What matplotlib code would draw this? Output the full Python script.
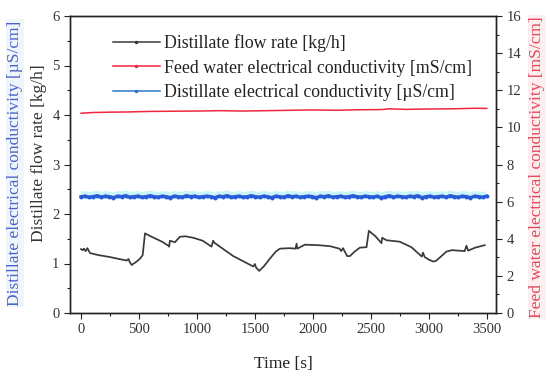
import matplotlib
matplotlib.use("Agg")
import matplotlib.pyplot as plt
from matplotlib.ticker import MultipleLocator

plt.rcParams['font.family'] = ['Liberation Serif', 'DejaVu Serif']

# Distillate flow rate [kg/h]
flow_t = [0, 15, 25, 40, 55, 78, 150, 250, 330, 394, 410, 420, 437, 480, 510, 532, 552, 600,
          700, 753, 760, 767, 810, 853, 900, 968, 1050, 1126, 1140, 1150, 1313, 1486, 1500,
          1510, 1537, 1580, 1630, 1680, 1716, 1800, 1850, 1860, 1866, 1931, 2050, 2147, 2230,
          2245, 2260, 2296, 2320, 2360, 2405, 2463, 2483, 2540, 2592, 2598, 2635, 2750, 2850,
          2940, 2950, 2965, 3000, 3037, 3060, 3100, 3152, 3200, 3310, 3325, 3340, 3400, 3483]
flow_v = [1.29, 1.27, 1.30, 1.25, 1.31, 1.21, 1.17, 1.13, 1.09, 1.06, 1.09, 1.03, 0.97, 1.04,
          1.10, 1.17, 1.61, 1.55, 1.44, 1.36, 1.34, 1.46, 1.43, 1.54, 1.55, 1.52, 1.46, 1.34,
          1.46, 1.42, 1.15, 0.94, 0.99, 0.92, 0.85, 0.95, 1.10, 1.24, 1.30, 1.31, 1.30, 1.40,
          1.30, 1.38, 1.37, 1.35, 1.30, 1.25, 1.31, 1.15, 1.15, 1.24, 1.32, 1.33, 1.66, 1.55,
          1.41, 1.52, 1.47, 1.44, 1.33, 1.14, 1.22, 1.13, 1.08, 1.04, 1.05, 1.13, 1.24, 1.27,
          1.25, 1.36, 1.26, 1.32, 1.37]

# Feed water electrical conductivity [mS/cm]
feed_t = [0, 100, 250, 400, 600, 800, 1000, 1200, 1400, 1600, 1800, 2000, 2200, 2400,
          2600, 2650, 2800, 3000, 3200, 3400, 3500]
feed_v = [10.76, 10.80, 10.82, 10.83, 10.86, 10.87, 10.88, 10.90, 10.88, 10.90, 10.92,
          10.94, 10.92, 10.95, 10.96, 11.00, 10.97, 10.99, 11.00, 11.03, 11.02]

# Distillate electrical conductivity [uS/cm]
dist_t = list(range(0, 3501, 35))
dist_v = [2.35, 2.36, 2.34, 2.35, 2.37, 2.34, 2.36, 2.35, 2.33, 2.36, 2.35, 2.37, 2.34,
          2.35, 2.36, 2.34, 2.35, 2.37, 2.35, 2.34, 2.36, 2.35, 2.33, 2.36, 2.35, 2.34,
          2.37, 2.35, 2.36, 2.34, 2.35, 2.36, 2.35, 2.33, 2.36, 2.35, 2.37, 2.34, 2.35,
          2.36, 2.34, 2.35, 2.37, 2.35, 2.34, 2.36, 2.35, 2.33, 2.36, 2.35, 2.34, 2.37,
          2.35, 2.36, 2.34, 2.35, 2.36, 2.35, 2.33, 2.36, 2.35, 2.37, 2.34, 2.35, 2.36,
          2.34, 2.35, 2.37, 2.35, 2.34, 2.36, 2.35, 2.34, 2.36, 2.33, 2.35, 2.37, 2.34,
          2.36, 2.35, 2.34, 2.36, 2.35, 2.37, 2.33, 2.35, 2.36, 2.34, 2.35, 2.36, 2.34,
          2.37, 2.35, 2.34, 2.36, 2.35, 2.33, 2.36, 2.35, 2.34, 2.36]

fig = plt.figure(figsize=(5.5, 3.78), dpi=100)
ax = fig.add_axes([70/550, 1-313/378, (496-70)/550, (313-16)/378])
ax2 = ax.twinx()

ax.plot(flow_t, flow_v, color='#3a3a3a', lw=1.25)
ax.plot(dist_t, [v + 0.025 for v in dist_v], color='#c8f4fa', lw=5.5,
        solid_capstyle='butt', zorder=1)
ax.plot(dist_t, dist_v, color='#2a5bd7', lw=2.4, marker='o', ms=1.8, zorder=2)
ax2.plot(feed_t, feed_v, color='#f0263e', lw=1.1)

l1, = ax.plot([], [], color='#3a3a3a', lw=1.1, marker='o', ms=1.5)
l2, = ax.plot([], [], color='#f0263e', lw=1.1, marker='o', ms=1.5)
l3, = ax.plot([], [], color='#2f78c4', lw=1.1, marker='o', ms=1.5)

ax.set_xlim(-95, 3580)
ax.set_ylim(0, 6)
ax2.set_ylim(0, 16)
ax.xaxis.set_major_locator(MultipleLocator(500))
ax.xaxis.set_minor_locator(MultipleLocator(250))
ax.yaxis.set_major_locator(MultipleLocator(1))
ax.yaxis.set_minor_locator(MultipleLocator(0.5))
ax2.yaxis.set_major_locator(MultipleLocator(2))
ax2.yaxis.set_minor_locator(MultipleLocator(1))

for a in (ax, ax2):
    a.tick_params(which='major', direction='out', length=4, width=0.8, labelsize=10.5,
                  colors='#222222', labelcolor='#333333')
    a.tick_params(which='minor', direction='out', length=2.5, width=0.8, colors='#222222')
    for s in a.spines.values():
        s.set_linewidth(1.0)
        s.set_color('#222222')
ax.tick_params(top=False, which='both')

ax.set_xlabel('Time [s]', fontsize=12.5, color='#222222', labelpad=14)
fig.text(39/550, 1-153/378, 'Distillate flow rate [kg/h]', rotation=90,
         ha='center', va='center', fontsize=12.5, color='#333333')
fig.text(15/550, 1-163/378, 'Distillate electrical conductivity [µS/cm]', rotation=90,
         ha='center', va='center', fontsize=12.5, color='#4a63c8',
         bbox=dict(facecolor='#eef6fb', edgecolor='none', pad=1))
fig.text(537/550, 1-167/378, 'Feed water electrical conductivity [mS/cm]', rotation=90,
         ha='center', va='center', fontsize=12.5, color='#e2485a',
         bbox=dict(facecolor='#fdeef0', edgecolor='none', pad=1))

leg = ax.legend([l1, l2, l3],
                ['Distillate flow rate [kg/h]',
                 'Feed water electrical conductivity [mS/cm]',
                 'Distillate electrical conductivity [µS/cm]'],
                loc='upper left', bbox_to_anchor=(0.063, 0.992), frameon=False,
                fontsize=12.8, handlelength=2.65, handletextpad=0.2, labelspacing=0.42)
for t in leg.get_texts():
    t.set_color('#222222')

fig.savefig('out.png', dpi=100)
